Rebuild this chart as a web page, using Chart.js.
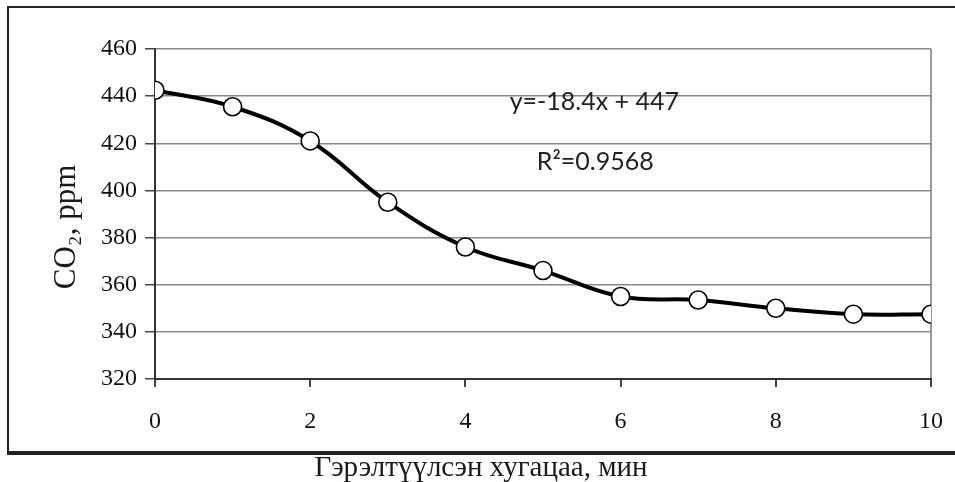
<!DOCTYPE html>
<html>
<head>
<meta charset="utf-8">
<script src="https://cdn.jsdelivr.net/npm/chart.js@4.4.1/dist/chart.umd.min.js"></script>
<style>
  html, body { margin: 0; padding: 0; background: #fff; }
  #wrap { width: 955px; height: 482px; position: relative; }
</style>
</head>
<body>
<div id="wrap"><canvas id="chart"></canvas></div>
<script>
// time, min
const minutes = [0, 1, 2, 3, 4, 5, 6, 7, 8, 9, 10];
// CO2, ppm
const co2 = [442.5, 435.5, 421, 395, 376, 366, 355, 353.5, 350, 347.5, 347.5];
const yTicks = [320, 340, 360, 380, 400, 420, 440, 460];
const xTicks = [0, 2, 4, 6, 8, 10];
const xTitle = 'Гэрэлтүүлсэн хугацаа, мин';
const yTitle = 'CO₂, ppm';
const notes = [
  { text: 'y=-18.4x + 447', x: 4.57, y: 437.5 },
  { text: 'R²=0.9568', x: 4.92, y: 412 }
];

const serif = '"Liberation Serif", "DejaVu Serif", serif';

// frame around the picture, axis titles, trendline notes
const extras = {
  id: 'extras',
  beforeDraw(chart) {
    const c = chart.ctx;
    c.save();
    c.fillStyle = '#fff';
    c.fillRect(0, 0, chart.width, chart.height);
    c.strokeStyle = '#222';
    c.lineWidth = 2;
    c.beginPath();
    c.moveTo(955, 7); c.lineTo(8, 7); c.lineTo(8, 453);
    c.stroke();
    c.lineWidth = 4;
    c.beginPath();
    c.moveTo(7, 453); c.lineTo(955, 453);
    c.stroke();

    c.fillStyle = '#1a1a1a';
    c.font = '29px ' + serif;
    c.textAlign = 'center';
    c.textBaseline = 'alphabetic';
    c.fillText(xTitle, 481, 476);

    c.save();
    c.translate(75, 227);
    c.rotate(-Math.PI / 2);
    c.font = '31px ' + serif;
    c.fillText(yTitle, 0, 0);
    c.restore();
    c.restore();
  },
  afterDatasetsDraw(chart) {
    const c = chart.ctx;
    const xs = chart.scales.x, ys = chart.scales.y;
    c.save();
    c.fillStyle = '#222';
    c.font = '25px Lato, "Open Sans", sans-serif';
    c.textBaseline = 'middle';
    notes.forEach(n => {
      c.fillText(n.text, xs.getPixelForValue(n.x), ys.getPixelForValue(n.y));
    });
    c.restore();
  }
};

new Chart(document.getElementById('chart'), {
  type: 'scatter',
  data: {
    datasets: [{
      data: minutes.map((m, i) => ({ x: m, y: co2[i] })),
      showLine: true,
      borderColor: '#000',
      borderWidth: 4,
      tension: 0.4,
      pointRadius: 9,
      pointBorderWidth: 1.6,
      pointBorderColor: '#000',
      pointBackgroundColor: '#fff'
    }]
  },
  options: {
    responsive: true,
    maintainAspectRatio: false,
    animation: false,
    layout: { padding: { left: 0, top: 49, right: 24, bottom: 0 } },
    plugins: { legend: { display: false }, tooltip: { enabled: false } },
    scales: {
      x: {
        type: 'linear',
        min: 0, max: 10,
        afterFit: s => { s.height = 103; s.paddingLeft = 0; s.paddingRight = 0; },
        afterBuildTicks: s => { s.ticks = xTicks.map(v => ({ value: v })); },
        border: { color: '#333', width: 2 },
        grid: {
          color: ctx => ctx.tick && ctx.tick.value === 10 ? '#999' : 'rgba(0,0,0,0)',
          lineWidth: 2,
          tickColor: '#444',
          tickLength: 8
        },
        ticks: { color: '#111', padding: 20, maxRotation: 0, font: { family: serif, size: 24 } }
      },
      y: {
        min: 320, max: 460,
        afterFit: s => { s.width = 155; s.paddingTop = 0; s.paddingBottom = 0; },
        afterBuildTicks: s => { s.ticks = yTicks.map(v => ({ value: v })); },
        border: { color: '#333', width: 2 },
        grid: { color: '#888', lineWidth: 1.5, tickColor: '#444', tickLength: 10 },
        ticks: { color: '#111', padding: 8, font: { family: serif, size: 24 } }
      }
    }
  },
  plugins: [extras]
});
</script>
</body>
</html>
